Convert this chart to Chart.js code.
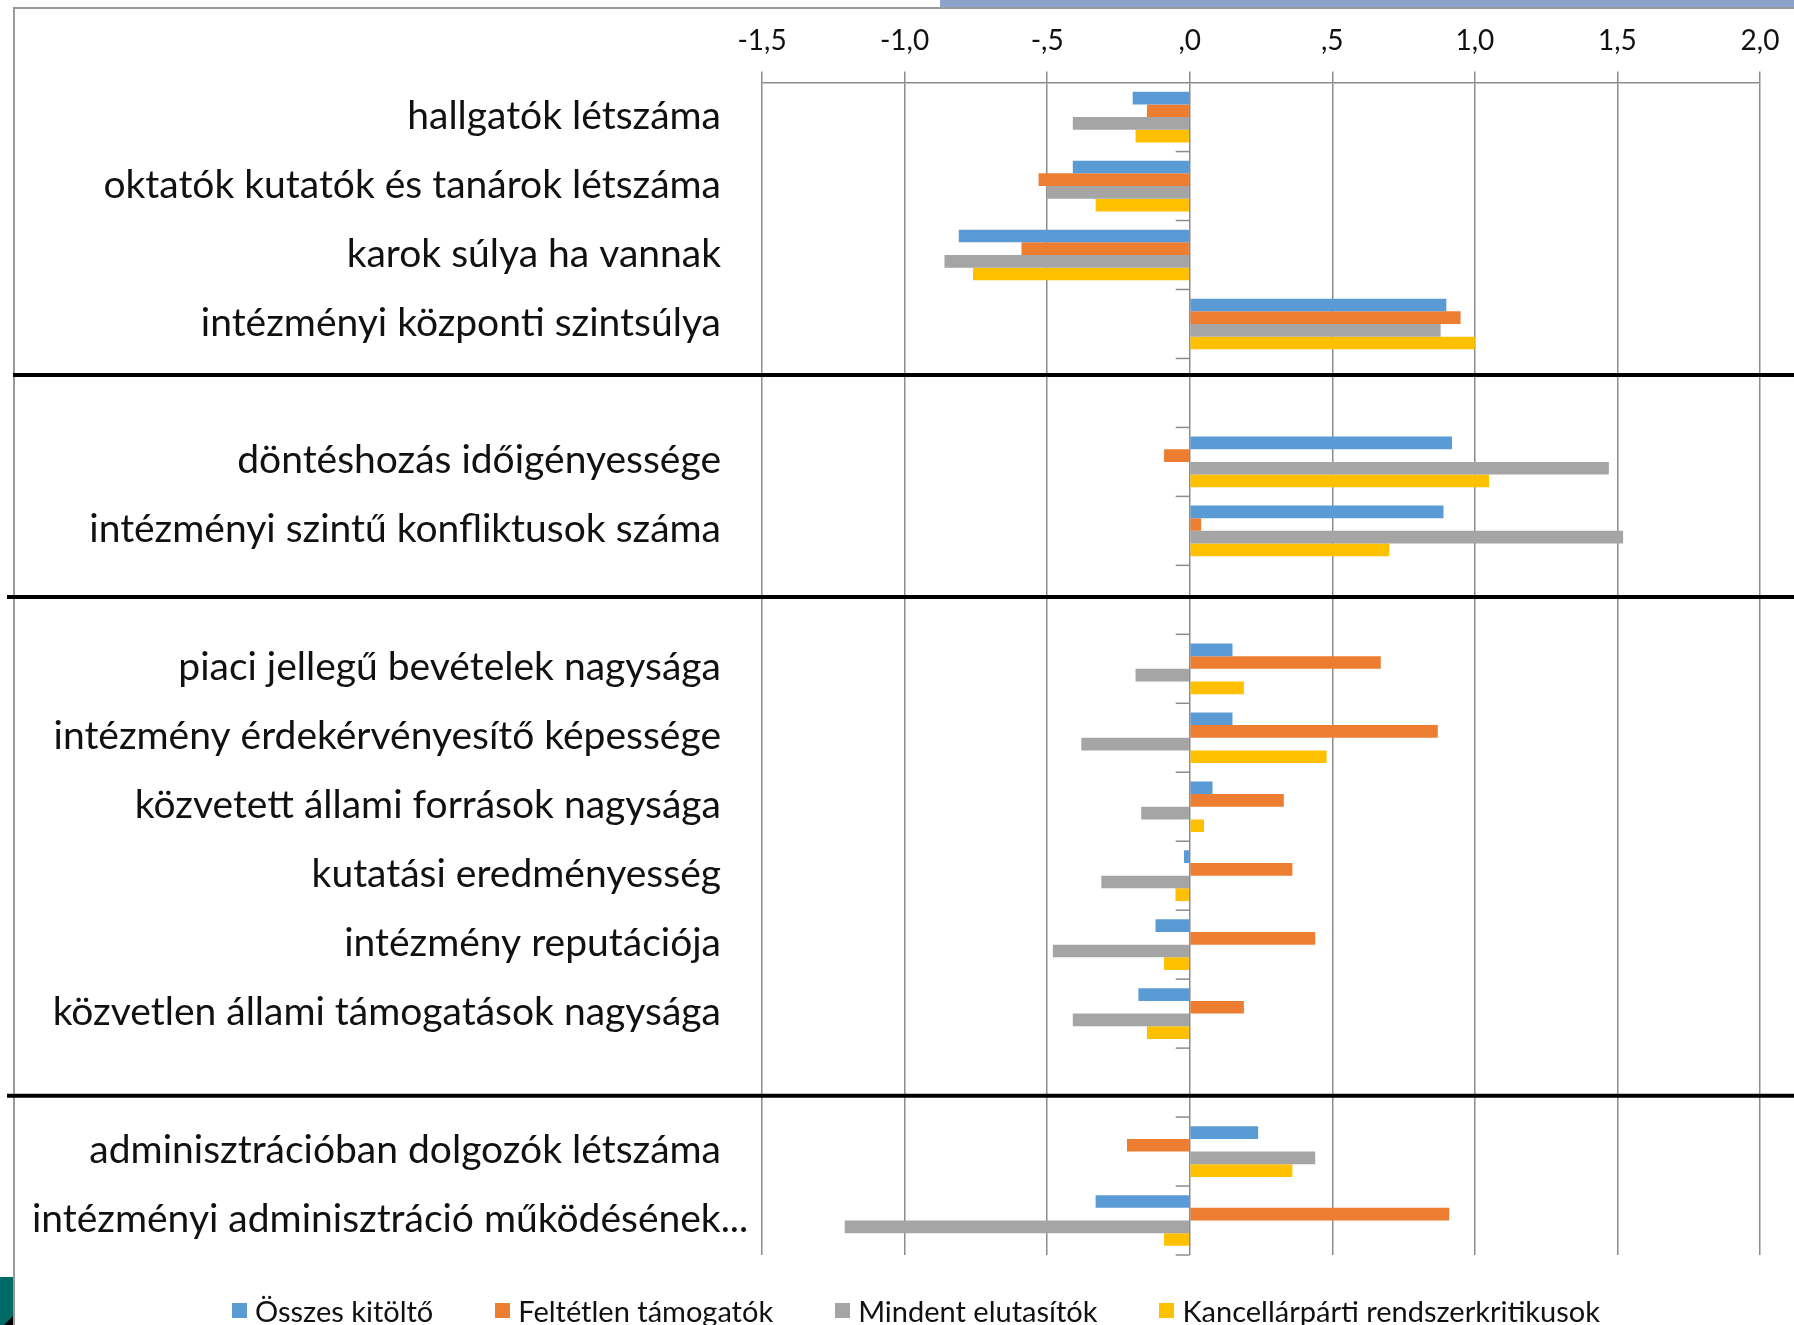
<!DOCTYPE html>
<html>
<head>
<meta charset="utf-8">
<script src="https://cdn.jsdelivr.net/npm/chart.js@4"></script>
<style>
  body { margin: 0; background: #fff; overflow: hidden; }
  #frame { position: absolute; left: 13px; top: 7px; right: 0; bottom: 0; border-top: 2px solid #9a9a9a; border-left: 2px solid #9a9a9a; }
  #banner { position: absolute; left: 940px; top: 0; width: 854px; height: 7px; background: #8ea3cb; }
  #corner { position: absolute; left: 0; top: 1277px; width: 13px; height: 48px; background: #006a66; }
  #corner2 { position: absolute; left: 4px; top: 1316px; width: 9px; height: 9px; background: #000; clip-path: polygon(100% 0, 100% 100%, 0 100%); }
  #wrap { position: absolute; left: 0; top: 0; width: 1794px; height: 1325px; }
  #legend { position: absolute; left: 232px; top: 1296px; display: flex; font: 29px Lato, sans-serif; line-height: 29px; color: #111; white-space: nowrap; }
  #legend span.item { display: flex; align-items: center; margin-right: 62px; }
  #legend span.box { width: 15px; height: 15px; margin-right: 8px; }
</style>
</head>
<body>
<div id="frame"></div>
<div id="banner"></div>
<div id="corner"></div>
<div id="corner2"></div>
<div id="wrap"><canvas id="grafico"></canvas></div>
<div id="legend"></div>
<script>
// kategóriák (üres = csoportok közti hely)
const categories = [
  "hallgatók létszáma",
  "oktatók kutatók és tanárok létszáma",
  "karok súlya ha vannak",
  "intézményi központi szintsúlya",
  "",
  "döntéshozás időigényessége",
  "intézményi szintű konfliktusok száma",
  "",
  "piaci jellegű bevételek nagysága",
  "intézmény érdekérvényesítő képessége",
  "közvetett állami források nagysága",
  "kutatási eredményesség",
  "intézmény reputációja",
  "közvetlen állami támogatások nagysága",
  "",
  "adminisztrációban dolgozók létszáma",
  "intézményi adminisztráció működésének..."
];

const seriesNames = ["Összes kitöltő", "Feltétlen támogatók", "Mindent elutasítók", "Kancellárpárti rendszerkritikusok"];

const osszes     = [-0.20, -0.41, -0.81, 0.90, null, 0.92, 0.89, null, 0.15, 0.15, 0.08, -0.02, -0.12, -0.18, null, 0.24, -0.33];
const feltetlen  = [-0.15, -0.53, -0.59, 0.95, null, -0.09, 0.04, null, 0.67, 0.87, 0.33, 0.36, 0.44, 0.19, null, -0.22, 0.91];
const elutasitok = [-0.41, -0.50, -0.86, 0.88, null, 1.47, 1.52, null, -0.19, -0.38, -0.17, -0.31, -0.48, -0.41, null, 0.44, -1.21];
const kancellar  = [-0.19, -0.33, -0.76, 1.00, null, 1.05, 0.70, null, 0.19, 0.48, 0.05, -0.05, -0.09, -0.15, null, 0.36, -0.09];

const xTickLabels = ["-1,5", "-1,0", "-,5", ",0", ",5", "1,0", "1,5", "2,0"];

const colors = ["#5B9BD5", "#ED7D31", "#A5A5A5", "#FFC000"];
const gridColor = "#8c8c8c";

// a csoportelválasztó fekete vonalak: melyik üres sávban, és a sáv közepéhez képest mennyivel
const separators = [[4, -0.26], [7, -0.04], [14, 0.19]];

// kategória feliratok (jobbra igazítva, a túl hosszú balra kezdődik)
const categoryLabels = {
  id: "categoryLabels",
  afterDraw(chart) {
    const ctx = chart.ctx;
    const y = chart.scales.y;
    ctx.save();
    ctx.font = "39px Lato";
    ctx.fillStyle = "#111";
    ctx.textBaseline = "middle";
    categories.forEach((lab, i) => {
      if (!lab) return;
      const w = ctx.measureText(lab).width;
      const x = Math.max(721 - w, 32);
      ctx.fillText(lab, x, y.getPixelForValue(i) - 1);
    });
    ctx.restore();
  }
};

// kis jelek a nulla tengelyen + fekete elválasztók
const extras = {
  id: "extras",
  afterDraw(chart) {
    const ctx = chart.ctx;
    const area = chart.chartArea;
    const x0 = chart.scales.x.getPixelForValue(0);
    const y = chart.scales.y;
    const band = (area.bottom - area.top) / categories.length;
    ctx.save();
    ctx.strokeStyle = gridColor;
    ctx.lineWidth = 1.5;
    for (let i = 1; i <= categories.length; i++) {
      const yy = area.top + i * band;
      ctx.beginPath();
      ctx.moveTo(x0 - 14, yy);
      ctx.lineTo(x0, yy);
      ctx.stroke();
    }
    ctx.strokeStyle = "#000";
    ctx.lineWidth = 4;
    separators.forEach(([idx, off], k) => {
      const yy = y.getPixelForValue(idx) + off * band;
      ctx.beginPath();
      ctx.moveTo(k === 0 ? 13 : 7, yy);
      ctx.lineTo(chart.width, yy);
      ctx.stroke();
    });
    ctx.restore();
  }
};

const ctx = document.getElementById("grafico").getContext("2d");
new Chart(ctx, {
  type: "bar",
  data: {
    labels: categories,
    datasets: [osszes, feltetlen, elutasitok, kancellar].map((d, i) => ({
      label: seriesNames[i],
      data: d,
      backgroundColor: colors[i],
      borderWidth: 0
    }))
  },
  options: {
    indexAxis: "y",
    responsive: true,
    maintainAspectRatio: false,
    animation: false,
    categoryPercentage: 0.735,
    barPercentage: 1.0,
    layout: { padding: { left: 0, right: 34, top: 10, bottom: 70 } },
    plugins: {
      legend: { display: false },
      tooltip: { enabled: false }
    },
    scales: {
      x: {
        position: "top",
        min: -1.5,
        max: 2.0,
        ticks: {
          stepSize: 0.5,
          autoSkip: false,
          maxRotation: 0,
          padding: 14,
          color: "#111",
          font: { family: "Lato", size: 28 },
          callback: (v, i) => xTickLabels[i]
        },
        grid: { color: gridColor, lineWidth: 1.5, tickLength: 11, tickColor: gridColor },
        border: { color: gridColor, width: 1.5 }
      },
      y: {
        ticks: { display: false },
        grid: { display: false },
        border: { display: false },
        afterFit(scale) { scale.width = 762; }
      }
    }
  },
  plugins: [categoryLabels, extras]
});

// jelmagyarázat
const legend = document.getElementById("legend");
seriesNames.forEach((name, i) => {
  const item = document.createElement("span");
  item.className = "item";
  const box = document.createElement("span");
  box.className = "box";
  box.style.background = colors[i];
  item.appendChild(box);
  item.appendChild(document.createTextNode(name));
  legend.appendChild(item);
});
</script>
</body>
</html>
